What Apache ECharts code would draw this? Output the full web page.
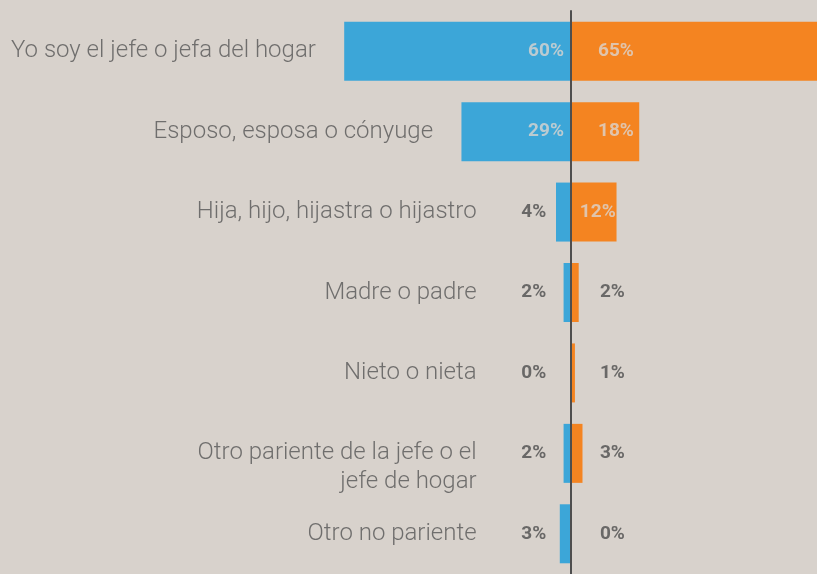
<!DOCTYPE html>
<html>
<head>
<meta charset="utf-8">
<script src="https://cdn.jsdelivr.net/npm/echarts@6/dist/echarts.min.js"></script>
<style>
  html, body { margin: 0; padding: 0; background: #d8d2cc; }
  #chart { width: 817px; height: 574px; }
</style>
</head>
<body>
<div id="chart"></div>
<script>
// categories (top to bottom)
const categories = [
  'Yo soy el jefe o jefa del hogar',
  'Esposo, esposa o cónyuge',
  'Hija, hijo, hijastra o hijastro',
  'Madre o padre',
  'Nieto o nieta',
  'Otro pariente de la jefe o el\njefe de hogar',
  'Otro no pariente'
]
// left side (blue) and right side (orange), percent
const blueValues = [60, 29, 4, 2, 0, 2, 3]
const orangeValues = [65, 18, 12, 2, 1, 3, 0]

const BLUE = '#3ca6d8'
const ORANGE = '#f48421'
const TEXT = '#555555'
const LIGHT = '#dbd5cf'
const DARK = '#4e4e4e'

const chart = echarts.init(document.getElementById('chart'))

// where the value labels sit (axis units), outside for the small bars
const blueLabelX = (v) => (v >= 10 ? -1.9 : -6.6)
const orangeLabelX = (v) => (v < 10 ? 7.6 : v < 15 ? 2.3 : 7.1)

const valueLabel = {
  show: true,
  fontFamily: 'Roboto',
  fontWeight: 'bold',
  fontSize: 19
}

chart.setOption({
  backgroundColor: '#d8d2cc',
  animation: false,
  grid: { left: 0, right: 0, top: 11, bottom: 0 },
  xAxis: {
    type: 'value',
    min: -151,
    max: 65,
    show: false
  },
  yAxis: {
    type: 'category',
    inverse: true,
    data: categories,
    axisLine: { show: true, onZero: true, lineStyle: { color: DARK, width: 2 } },
    axisTick: { show: false },
    axisLabel: { show: false },
    splitLine: { show: false },
    z: 10
  },
  series: [
    {
      name: 'azul',
      type: 'bar',
      barWidth: 59,
      barGap: '-100%',
      itemStyle: { color: BLUE },
      data: blueValues.map((v) => -v)
    },
    {
      name: 'naranja',
      type: 'bar',
      barWidth: 59,
      itemStyle: { color: ORANGE },
      data: orangeValues
    },
    {
      // category names, placed just left of the blue bar
      type: 'scatter',
      symbolSize: 0,
      silent: true,
      data: blueValues.map((v, i) => ({
        value: [-Math.max(v + 7.5, 25), i],
        label: { offset: [0, categories[i].includes('\n') ? 14 : 0] }
      })),
      label: {
        show: true,
        position: 'left',
        distance: 0,
        align: 'right',
        color: TEXT,
        fontFamily: 'Roboto',
        fontWeight: 300,
        fontSize: 24,
        lineHeight: 29,
        formatter: (p) => categories[p.dataIndex]
      }
    },
    {
      type: 'scatter',
      symbolSize: 0,
      silent: true,
      z: 20,
      data: blueValues.map((v, i) => ({
        value: [blueLabelX(v), i],
        label: { color: v >= 10 ? LIGHT : DARK }
      })),
      label: {
        ...valueLabel,
        position: 'left',
        distance: 0,
        formatter: (p) => blueValues[p.dataIndex] + '%'
      }
    },
    {
      type: 'scatter',
      symbolSize: 0,
      silent: true,
      z: 20,
      data: orangeValues.map((v, i) => ({
        value: [orangeLabelX(v), i],
        label: { color: v >= 10 ? LIGHT : DARK }
      })),
      label: {
        ...valueLabel,
        position: 'right',
        distance: 0,
        formatter: (p) => orangeValues[p.dataIndex] + '%'
      }
    }
  ]
})
</script>
</body>
</html>
